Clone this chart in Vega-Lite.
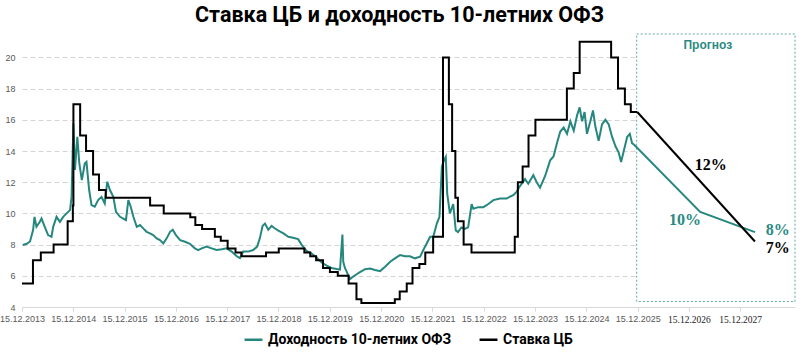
{
  "$schema": "https://vega.github.io/schema/vega-lite/v6.json",
  "width": 773,
  "height": 273,
  "autosize": "none",
  "padding": {"left": 22, "top": 34, "right": 5, "bottom": 46},
  "title": {"text": "Ставка ЦБ и доходность 10-летних ОФЗ", "font": "Roboto", "fontSize": 21.5, "fontWeight": "bold", "color": "#000000", "anchor": "middle", "offset": 7, "dx": -9},
  "config": {
    "view": {"stroke": null},
    "legend": {"orient": "none", "legendX": 221, "legendY": 295, "direction": "horizontal", "symbolType": "stroke", "symbolStrokeWidth": 2.5, "symbolSize": 320, "labelFont": "Roboto", "labelFontSize": 14, "labelFontWeight": "bold", "labelColor": "#000000", "columnPadding": 22, "labelLimit": 400}
  },
  "datasets": {
    "ofz": [
      {"d": "2013-12-20", "v": 7.97}, {"d": "2014-01-18", "v": 8.05}, {"d": "2014-02-10", "v": 8.2}, {"d": "2014-03-04", "v": 8.93},
      {"d": "2014-03-14", "v": 9.78}, {"d": "2014-03-28", "v": 9.14}, {"d": "2014-04-21", "v": 9.46}, {"d": "2014-05-03", "v": 9.67},
      {"d": "2014-05-26", "v": 9.14}, {"d": "2014-06-19", "v": 8.61}, {"d": "2014-07-13", "v": 8.5}, {"d": "2014-07-25", "v": 9.14},
      {"d": "2014-08-18", "v": 9.78}, {"d": "2014-09-11", "v": 9.46}, {"d": "2014-10-04", "v": 9.78}, {"d": "2014-10-29", "v": 10.0},
      {"d": "2014-11-22", "v": 10.21}, {"d": "2014-12-03", "v": 11.06}, {"d": "2014-12-16", "v": 15.77}, {"d": "2014-12-27", "v": 12.78},
      {"d": "2015-01-13", "v": 14.91}, {"d": "2015-01-27", "v": 13.2}, {"d": "2015-02-14", "v": 12.13}, {"d": "2015-03-07", "v": 13.2},
      {"d": "2015-03-19", "v": 13.3}, {"d": "2015-04-07", "v": 11.5}, {"d": "2015-04-24", "v": 10.53}, {"d": "2015-05-17", "v": 10.43},
      {"d": "2015-06-10", "v": 10.85}, {"d": "2015-07-04", "v": 11.06}, {"d": "2015-07-27", "v": 10.64}, {"d": "2015-08-14", "v": 12.03},
      {"d": "2015-09-02", "v": 11.5}, {"d": "2015-09-26", "v": 11.06}, {"d": "2015-10-15", "v": 10.1}, {"d": "2015-11-13", "v": 9.78},
      {"d": "2015-12-06", "v": 9.67}, {"d": "2015-12-25", "v": 9.57}, {"d": "2016-01-11", "v": 10.85}, {"d": "2016-01-28", "v": 10.43},
      {"d": "2016-02-16", "v": 9.78}, {"d": "2016-03-11", "v": 9.14}, {"d": "2016-04-03", "v": 9.25}, {"d": "2016-04-26", "v": 9.04},
      {"d": "2016-05-20", "v": 8.82}, {"d": "2016-06-13", "v": 8.72}, {"d": "2016-07-06", "v": 8.61}, {"d": "2016-07-31", "v": 8.4},
      {"d": "2016-08-23", "v": 8.29}, {"d": "2016-09-16", "v": 8.08}, {"d": "2016-10-10", "v": 8.4}, {"d": "2016-11-03", "v": 8.82},
      {"d": "2016-11-22", "v": 8.95}, {"d": "2016-12-15", "v": 8.61}, {"d": "2017-01-14", "v": 8.29}, {"d": "2017-02-18", "v": 8.18},
      {"d": "2017-03-24", "v": 8.05}, {"d": "2017-04-29", "v": 7.76}, {"d": "2017-05-22", "v": 7.65}, {"d": "2017-06-16", "v": 7.76},
      {"d": "2017-07-21", "v": 7.87}, {"d": "2017-08-26", "v": 7.76}, {"d": "2017-09-30", "v": 7.65}, {"d": "2017-11-06", "v": 7.7},
      {"d": "2017-12-11", "v": 7.76}, {"d": "2018-01-16", "v": 7.55}, {"d": "2018-02-21", "v": 7.25}, {"d": "2018-03-15", "v": 7.13},
      {"d": "2018-04-08", "v": 7.55}, {"d": "2018-05-13", "v": 7.55}, {"d": "2018-06-18", "v": 7.65}, {"d": "2018-07-16", "v": 7.87},
      {"d": "2018-08-04", "v": 8.4}, {"d": "2018-08-24", "v": 9.2}, {"d": "2018-09-10", "v": 9.35}, {"d": "2018-10-03", "v": 8.95},
      {"d": "2018-10-27", "v": 9.2}, {"d": "2018-11-20", "v": 9.03}, {"d": "2018-12-14", "v": 8.9}, {"d": "2019-01-19", "v": 8.72},
      {"d": "2019-02-23", "v": 8.5}, {"d": "2019-03-29", "v": 8.44}, {"d": "2019-05-04", "v": 8.35}, {"d": "2019-05-28", "v": 8.0},
      {"d": "2019-07-03", "v": 7.6}, {"d": "2019-08-08", "v": 7.43}, {"d": "2019-09-12", "v": 7.17}, {"d": "2019-10-18", "v": 6.85},
      {"d": "2019-11-23", "v": 6.65}, {"d": "2019-12-28", "v": 6.5}, {"d": "2020-02-02", "v": 6.43}, {"d": "2020-02-26", "v": 6.4},
      {"d": "2020-03-14", "v": 8.65}, {"d": "2020-03-20", "v": 6.9}, {"d": "2020-04-01", "v": 6.5}, {"d": "2020-04-13", "v": 6.27},
      {"d": "2020-05-07", "v": 5.78}, {"d": "2020-05-30", "v": 5.95}, {"d": "2020-06-23", "v": 6.1}, {"d": "2020-07-17", "v": 6.24},
      {"d": "2020-08-22", "v": 6.42}, {"d": "2020-09-27", "v": 6.47}, {"d": "2020-11-01", "v": 6.37}, {"d": "2020-12-07", "v": 6.3},
      {"d": "2021-01-12", "v": 6.58}, {"d": "2021-02-17", "v": 6.9}, {"d": "2021-03-23", "v": 7.12}, {"d": "2021-04-28", "v": 7.33},
      {"d": "2021-06-02", "v": 7.25}, {"d": "2021-07-08", "v": 7.25}, {"d": "2021-08-12", "v": 7.12}, {"d": "2021-09-18", "v": 7.22},
      {"d": "2021-10-11", "v": 7.65}, {"d": "2021-11-04", "v": 8.07}, {"d": "2021-11-28", "v": 8.5}, {"d": "2021-12-21", "v": 8.5},
      {"d": "2022-01-15", "v": 9.35}, {"d": "2022-02-03", "v": 9.78}, {"d": "2022-02-20", "v": 12.99}, {"d": "2022-03-07", "v": 13.4},
      {"d": "2022-03-20", "v": 13.63}, {"d": "2022-03-30", "v": 11.27}, {"d": "2022-04-18", "v": 10.0}, {"d": "2022-05-12", "v": 10.6},
      {"d": "2022-05-30", "v": 8.9}, {"d": "2022-06-15", "v": 8.8}, {"d": "2022-07-09", "v": 9.1}, {"d": "2022-08-02", "v": 9.0},
      {"d": "2022-08-26", "v": 9.1}, {"d": "2022-09-20", "v": 10.6}, {"d": "2022-10-02", "v": 10.3}, {"d": "2022-11-06", "v": 10.4},
      {"d": "2022-12-12", "v": 10.4}, {"d": "2023-01-17", "v": 10.6}, {"d": "2023-02-22", "v": 10.85}, {"d": "2023-04-10", "v": 10.96},
      {"d": "2023-05-27", "v": 10.96}, {"d": "2023-07-13", "v": 11.17}, {"d": "2023-08-06", "v": 11.38}, {"d": "2023-08-30", "v": 11.75},
      {"d": "2023-10-05", "v": 12.2}, {"d": "2023-10-28", "v": 11.9}, {"d": "2023-12-03", "v": 12.45}, {"d": "2023-12-27", "v": 12.0},
      {"d": "2024-01-20", "v": 11.65}, {"d": "2024-02-25", "v": 12.4}, {"d": "2024-04-01", "v": 13.4}, {"d": "2024-04-25", "v": 13.65},
      {"d": "2024-05-19", "v": 14.5}, {"d": "2024-06-12", "v": 15.25}, {"d": "2024-07-06", "v": 15.5}, {"d": "2024-07-30", "v": 15.1},
      {"d": "2024-08-23", "v": 15.9}, {"d": "2024-09-16", "v": 15.3}, {"d": "2024-10-10", "v": 16.3}, {"d": "2024-10-28", "v": 16.8},
      {"d": "2024-11-14", "v": 15.9}, {"d": "2024-12-02", "v": 16.5}, {"d": "2024-12-19", "v": 15.1}, {"d": "2025-01-12", "v": 15.9},
      {"d": "2025-01-31", "v": 16.6}, {"d": "2025-02-16", "v": 15.6}, {"d": "2025-03-12", "v": 14.65}, {"d": "2025-04-05", "v": 15.7},
      {"d": "2025-04-29", "v": 16.0}, {"d": "2025-05-23", "v": 15.7}, {"d": "2025-06-16", "v": 14.9}, {"d": "2025-07-10", "v": 14.3},
      {"d": "2025-08-02", "v": 13.9}, {"d": "2025-08-19", "v": 13.3}, {"d": "2025-09-07", "v": 14.0}, {"d": "2025-10-01", "v": 14.9},
      {"d": "2025-10-20", "v": 15.1}, {"d": "2025-11-05", "v": 14.5}, {"d": "2025-11-20", "v": 14.4},
      {"d": "2027-03-05", "v": 10.1}, {"d": "2028-03-29", "v": 8.8}
    ],
    "cb": [
      {"d": "2013-12-15", "v": 5.5}, {"d": "2014-03-03", "v": 7}, {"d": "2014-04-28", "v": 7.5}, {"d": "2014-07-28", "v": 8},
      {"d": "2014-11-05", "v": 9.5}, {"d": "2014-12-12", "v": 10.5}, {"d": "2014-12-16", "v": 17}, {"d": "2015-02-02", "v": 15},
      {"d": "2015-03-16", "v": 14}, {"d": "2015-05-05", "v": 12.5}, {"d": "2015-06-16", "v": 11.5}, {"d": "2015-08-03", "v": 11},
      {"d": "2016-06-14", "v": 10.5}, {"d": "2016-09-19", "v": 10}, {"d": "2017-03-27", "v": 9.75}, {"d": "2017-05-02", "v": 9.25},
      {"d": "2017-06-19", "v": 9}, {"d": "2017-09-18", "v": 8.5}, {"d": "2017-10-30", "v": 8.25}, {"d": "2017-12-18", "v": 7.75},
      {"d": "2018-02-12", "v": 7.5}, {"d": "2018-03-26", "v": 7.25}, {"d": "2018-09-17", "v": 7.5}, {"d": "2018-12-17", "v": 7.75},
      {"d": "2019-06-17", "v": 7.5}, {"d": "2019-07-29", "v": 7.25}, {"d": "2019-09-09", "v": 7}, {"d": "2019-10-28", "v": 6.5},
      {"d": "2019-12-16", "v": 6.25}, {"d": "2020-02-10", "v": 6}, {"d": "2020-04-27", "v": 5.5}, {"d": "2020-06-22", "v": 4.5},
      {"d": "2020-07-27", "v": 4.25}, {"d": "2021-03-22", "v": 4.5}, {"d": "2021-04-26", "v": 5}, {"d": "2021-06-15", "v": 5.5},
      {"d": "2021-07-26", "v": 6.5}, {"d": "2021-09-13", "v": 6.75}, {"d": "2021-10-25", "v": 7.5}, {"d": "2021-12-20", "v": 8.5},
      {"d": "2022-02-28", "v": 20}, {"d": "2022-04-11", "v": 17}, {"d": "2022-05-04", "v": 14}, {"d": "2022-05-27", "v": 11},
      {"d": "2022-06-14", "v": 9.5}, {"d": "2022-07-25", "v": 8}, {"d": "2022-09-19", "v": 7.5}, {"d": "2023-07-24", "v": 8.5},
      {"d": "2023-08-15", "v": 12}, {"d": "2023-09-18", "v": 13}, {"d": "2023-10-30", "v": 15}, {"d": "2023-12-18", "v": 16},
      {"d": "2024-07-29", "v": 18}, {"d": "2024-09-16", "v": 19}, {"d": "2024-10-28", "v": 21}, {"d": "2025-06-09", "v": 20},
      {"d": "2025-07-28", "v": 18}, {"d": "2025-09-15", "v": 17}, {"d": "2025-10-27", "v": 16.5}, {"d": "2025-12-12", "v": 16.5}
    ],
    "cbf": [
      {"d": "2025-12-12", "v": 16.5}, {"d": "2028-03-29", "v": 8.2}
    ],
    "box": [
      {"d": "2025-12-08", "d2": "2029-01-08", "v": 21.5, "v2": 4.35}
    ],
    "notes": [
      {"d": "2027-05-20", "v": 13.1, "label": "12%", "series": "cb"},
      {"d": "2026-11-17", "v": 9.57, "label": "10%", "series": "ofz"},
      {"d": "2028-09-08", "v": 8.93, "label": "8%", "series": "ofz"},
      {"d": "2028-09-08", "v": 7.78, "label": "7%", "series": "cb"}
    ],
    "head": [
      {"d": "2027-04-28", "v": 20.79, "label": "Прогноз"}
    ]
  },
  "encoding": {
    "x": {
      "field": "d", "type": "temporal",
      "scale": {"type": "utc", "domain": [{"year": 2013, "month": 12, "date": 15, "utc": true}, {"year": 2029, "month": 1, "date": 8, "utc": true}]},
      "axis": {
        "title": null, "grid": false,
        "labelExpr": "utcFormat(datum.value, '%d.%m.%Y')",
        "values": [
          {"year": 2013, "month": 12, "date": 15, "utc": true}, {"year": 2014, "month": 12, "date": 15, "utc": true},
          {"year": 2015, "month": 12, "date": 15, "utc": true}, {"year": 2016, "month": 12, "date": 15, "utc": true},
          {"year": 2017, "month": 12, "date": 15, "utc": true}, {"year": 2018, "month": 12, "date": 15, "utc": true},
          {"year": 2019, "month": 12, "date": 15, "utc": true}, {"year": 2020, "month": 12, "date": 15, "utc": true},
          {"year": 2021, "month": 12, "date": 15, "utc": true}, {"year": 2022, "month": 12, "date": 15, "utc": true},
          {"year": 2023, "month": 12, "date": 15, "utc": true}, {"year": 2024, "month": 12, "date": 15, "utc": true},
          {"year": 2025, "month": 12, "date": 15, "utc": true}, {"year": 2026, "month": 12, "date": 15, "utc": true},
          {"year": 2027, "month": 12, "date": 15, "utc": true}
        ],
        "domainColor": "#d9d9d9", "tickColor": "#d9d9d9", "tickSize": 4,
        "labelFont": {"condition": {"test": "utcyear(datum.value) >= 2026", "value": "Liberation Serif"}, "value": "Liberation Sans"},
        "labelColor": {"condition": {"test": "utcyear(datum.value) >= 2026", "value": "#222222"}, "value": "#595959"},
        "labelFontSize": {"condition": {"test": "utcyear(datum.value) >= 2026", "value": 9.5}, "value": 9},
        "labelPadding": 3, "labelFlush": false, "labelOverlap": false
      }
    },
    "y": {
      "field": "v", "type": "quantitative",
      "scale": {"domain": [4, 21.5], "nice": false, "zero": false},
      "axis": {
        "title": null, "values": [4, 6, 8, 10, 12, 14, 16, 18, 20], "domain": false, "ticks": false,
        "labelFont": "Liberation Sans", "labelFontSize": 9, "labelColor": "#595959", "labelPadding": 7,
        "gridColor": "#d4d4d4", "gridDash": [5, 3], "gridWidth": 1,
        "gridOpacity": {"condition": {"test": "datum.value === 4", "value": 0}, "value": 1}
      }
    }
  },
  "layer": [
    {
      "data": {"name": "box"},
      "mark": {"type": "rect", "fill": "#ffffff", "stroke": "#5fa8a3", "strokeWidth": 1, "strokeDash": [2, 2]},
      "encoding": {"x2": {"field": "d2"}, "y2": {"field": "v2"}}
    },
    {
      "data": {"name": "head"},
      "mark": {"type": "text", "font": "Liberation Sans", "fontSize": 12, "fontWeight": "bold", "color": "#2a8a83"},
      "encoding": {"text": {"field": "label"}}
    },
    {
      "data": {"name": "ofz"},
      "mark": {"type": "line", "strokeWidth": 2, "interpolate": "linear"},
      "encoding": {
        "color": {"datum": "Доходность 10-летних ОФЗ", "type": "nominal",
          "scale": {"domain": ["Доходность 10-летних ОФЗ", "Ставка ЦБ"], "range": ["#26877f", "#000000"]},
          "legend": {"title": null}}
      }
    },
    {
      "data": {"name": "cb"},
      "mark": {"type": "line", "strokeWidth": 2, "interpolate": "step-after"},
      "encoding": {"color": {"datum": "Ставка ЦБ", "type": "nominal"}}
    },
    {
      "data": {"name": "cbf"},
      "mark": {"type": "line", "strokeWidth": 2, "interpolate": "linear"},
      "encoding": {"color": {"datum": "Ставка ЦБ", "type": "nominal"}}
    },
    {
      "data": {"name": "notes"},
      "transform": [{"filter": "datum.series === 'ofz'"}],
      "mark": {"type": "text", "font": "Liberation Serif", "fontSize": 16, "fontWeight": "bold", "color": "#2a8a83"},
      "encoding": {"text": {"field": "label"}}
    },
    {
      "data": {"name": "notes"},
      "transform": [{"filter": "datum.series === 'cb'"}],
      "mark": {"type": "text", "font": "Liberation Serif", "fontSize": 16, "fontWeight": "bold", "color": "#000000"},
      "encoding": {"text": {"field": "label"}}
    }
  ]
}
